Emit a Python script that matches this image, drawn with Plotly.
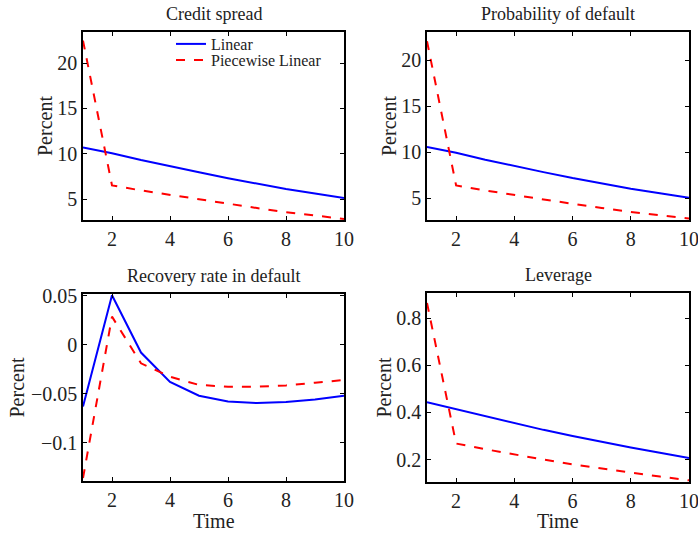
import plotly.graph_objects as go

t = [1, 2, 3, 4, 5, 6, 7, 8, 9, 10]

spread_lin = [10.7, 10.05, 9.3, 8.6, 7.95, 7.3, 6.7, 6.1, 5.6, 5.1]
spread_pw = [22.5, 6.5, 5.95, 5.45, 4.95, 4.45, 4.0, 3.55, 3.2, 2.8]

pd_lin = [10.6, 9.95, 9.2, 8.5, 7.85, 7.2, 6.6, 6.05, 5.55, 5.05]
pd_pw = [22.1, 6.4, 5.85, 5.35, 4.85, 4.4, 3.95, 3.5, 3.15, 2.8]

rec_lin = [-0.063, 0.0505, -0.008, -0.038, -0.052, -0.058, -0.0595, -0.0585, -0.0558, -0.052]
rec_pw = [-0.136, 0.0286, -0.019, -0.0327, -0.041, -0.043, -0.0429, -0.0415, -0.0388, -0.036]

lev_lin = [0.443, 0.414, 0.383, 0.353, 0.326, 0.300, 0.275, 0.251, 0.229, 0.207]
lev_pw = [0.864, 0.268, 0.244, 0.221, 0.200, 0.180, 0.162, 0.145, 0.128, 0.112]

titles = ["Credit spread", "Probability of default", "Recovery rate in default", "Leverage"]
series_lin = [spread_lin, pd_lin, rec_lin, lev_lin]
series_pw = [spread_pw, pd_pw, rec_pw, lev_pw]
yranges = [[2.68, 23.45], [2.64, 23.1], [-0.139, 0.0517], [0.105, 0.906]]
ytickvals = [[5, 10, 15, 20], [5, 10, 15, 20], [-0.1, -0.05, 0, 0.05], [0.2, 0.4, 0.6, 0.8]]
yticktext = [["5", "10", "15", "20"], ["5", "10", "15", "20"],
             ["\u22120.1", "\u22120.05", "0", "0.05"], ["0.2", "0.4", "0.6", "0.8"]]
xtickvals = [2, 4, 6, 8, 10]

W, H = 698, 534
# plot boxes in pixels (left, right, top, bottom)
boxes = [(83, 344, 32, 220), (427, 689, 32, 220), (83, 344, 294, 481), (427, 689, 293, 482)]

FONT = "Liberation Serif"
TXT = "#222222"
fig = go.Figure()
layout = dict(width=W, height=H, margin=dict(l=0, r=0, t=0, b=0, autoexpand=False),
              paper_bgcolor="white", plot_bgcolor="white",
              font=dict(family=FONT, color=TXT, size=18),
              showlegend=True)
annotations = []
for i in range(4):
    l, r, tp, bt = boxes[i]
    xa = "xaxis" if i == 0 else f"xaxis{i+1}"
    ya = "yaxis" if i == 0 else f"yaxis{i+1}"
    xref = "x" if i == 0 else f"x{i+1}"
    yref = "y" if i == 0 else f"y{i+1}"
    fig.add_trace(go.Scatter(x=t, y=series_lin[i], mode="lines", name="Linear",
                             line=dict(color="#0000ff", width=2),
                             xaxis=xref, yaxis=yref, showlegend=(i == 0), legend="legend"))
    fig.add_trace(go.Scatter(x=t, y=series_pw[i], mode="lines", name="Piecewise Linear",
                             line=dict(color="#ff0000", width=2, dash="dash"),
                             xaxis=xref, yaxis=yref, showlegend=(i == 0), legend="legend2"))
    axcommon = dict(showline=True, linecolor="black", linewidth=1.5, mirror="ticks",
                    ticks="inside", ticklen=4, tickcolor="black", tickwidth=1,
                    showgrid=False, zeroline=False, automargin=False,
                    tickfont=dict(family=FONT, size=20, color=TXT))
    layout[xa] = dict(domain=[l / W, r / W], range=[1, 10], tickvals=xtickvals,
                      anchor=yref, ticklabeloverflow="allow", **axcommon)
    layout[ya] = dict(domain=[1 - bt / H, 1 - tp / H], range=yranges[i],
                      tickvals=ytickvals[i], ticktext=yticktext[i],
                      anchor=xref, **axcommon)
    cx = (l + r) / 2
    annotations.append(dict(text=titles[i], x=cx / W, y=1 - (tp - 18) / H,
                            xref="paper", yref="paper", showarrow=False,
                            font=dict(family=FONT, size=18, color=TXT),
                            xanchor="center", yanchor="middle"))
ylab_x = [45, 389, 16, 383]
for i in range(4):
    l, r, tp, bt = boxes[i]
    annotations.append(dict(text="Percent", x=ylab_x[i] / W, y=1 - ((tp + bt) / 2) / H,
                            xref="paper", yref="paper", showarrow=False, textangle=-90,
                            font=dict(family=FONT, size=20, color=TXT),
                            xanchor="center", yanchor="middle"))
for i in (2, 3):
    l, r, tp, bt = boxes[i]
    annotations.append(dict(text="Time", x=((l + r) / 2) / W, y=0,
                            xref="paper", yref="paper", showarrow=False,
                            font=dict(family=FONT, size=20, color=TXT),
                            xanchor="center", yanchor="bottom"))
layout["annotations"] = annotations
legcommon = dict(xanchor="left", yanchor="middle", bgcolor="rgba(0,0,0,0)", borderwidth=0,
                 font=dict(family=FONT, size=16, color=TXT), itemwidth=30)
layout["legend"] = dict(x=171 / W, y=1 - 44 / H, **legcommon)
layout["legend2"] = dict(x=171 / W, y=1 - 60 / H, **legcommon)
fig.update_layout(**layout)
fig.write_html("out.html", config={"displayModeBar": False},
               post_script="document.body.style.margin='0';")
